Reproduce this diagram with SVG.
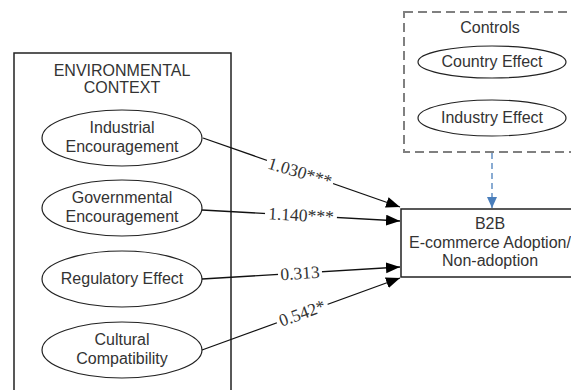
<svg xmlns="http://www.w3.org/2000/svg" width="571" height="390" viewBox="0 0 571 390">
<style>
.sans{font-family:"Liberation Sans",Arial,sans-serif;font-size:16px;fill:#333;text-anchor:middle}
.lbl{font-family:"Liberation Serif","Times New Roman",serif;font-size:17.5px;fill:#333;text-anchor:middle}
.ell{fill:#fff;stroke:#222;stroke-width:1.2}
.box{fill:#fff;stroke:#222;stroke-width:1.5}
.conn{stroke:#111;stroke-width:1.3;fill:none}
</style>
<defs>
<marker id="ah" markerUnits="userSpaceOnUse" markerWidth="14" markerHeight="12" refX="14" refY="5.5" orient="auto">
<path d="M0,0 L14,5.5 L0,11 z" fill="#000"/>
</marker>
<marker id="ahb" markerUnits="userSpaceOnUse" markerWidth="12" markerHeight="10" refX="11" refY="5" orient="auto">
<path d="M0,0 L11,5 L0,10 z" fill="#4a7ebb"/>
</marker>
</defs>
<rect width="571" height="390" fill="#fff"/>
<g id="environmental-context">
<rect class="box" x="14" y="53" width="217" height="345"/>
<text class="sans" x="122" y="76">ENVIRONMENTAL</text>
<text class="sans" x="122" y="93">CONTEXT</text>
</g>
<g id="industrial">
<ellipse class="ell" cx="122" cy="138" rx="80" ry="28"/>
<text class="sans" x="122" y="133">Industrial</text>
<text class="sans" x="122" y="152">Encouragement</text>
</g>
<g id="governmental">
<ellipse class="ell" cx="122" cy="208" rx="80" ry="28"/>
<text class="sans" x="122" y="203">Governmental</text>
<text class="sans" x="122" y="222">Encouragement</text>
</g>
<g id="regulatory">
<ellipse class="ell" cx="122" cy="279" rx="80" ry="28"/>
<text class="sans" x="122" y="284">Regulatory Effect</text>
</g>
<g id="cultural">
<ellipse class="ell" cx="122" cy="350" rx="80" ry="28"/>
<text class="sans" x="122" y="345">Cultural</text>
<text class="sans" x="122" y="364">Compatibility</text>
</g>
<g id="controls">
<rect x="404" y="12" width="185" height="140" fill="#fff" stroke="#808080" stroke-width="2" stroke-dasharray="9,5"/>
<text class="sans" x="490" y="33">Controls</text>
</g>
<g id="country-effect">
<ellipse class="ell" cx="492" cy="62" rx="74" ry="16"/>
<text class="sans" x="492" y="67">Country Effect</text>
</g>
<g id="industry-effect">
<ellipse class="ell" cx="492" cy="118" rx="74" ry="18"/>
<text class="sans" x="492" y="123">Industry Effect</text>
</g>
<g id="b2b">
<rect class="box" x="401" y="209" width="185" height="68"/>
<text class="sans" x="490" y="229">B2B</text>
<text class="sans" x="490" y="248">E-commerce Adoption/</text>
<text class="sans" x="490" y="266">Non-adoption</text>
</g>
<g id="connectors">
<line class="conn" x1="203" y1="138" x2="400" y2="207" marker-end="url(#ah)"/>
<line class="conn" x1="202" y1="210" x2="400" y2="221" marker-end="url(#ah)"/>
<line class="conn" x1="202" y1="279" x2="400" y2="267" marker-end="url(#ah)"/>
<line class="conn" x1="202" y1="350" x2="400" y2="278" marker-end="url(#ah)"/>
<line x1="492" y1="153" x2="492" y2="208" stroke="#4a7ebb" stroke-width="1.3" stroke-dasharray="6,4" marker-end="url(#ahb)"/>
<g transform="translate(300,172) rotate(17)">
<rect x="-35" y="-8" width="70" height="15" fill="#fff"/>
<text class="lbl" x="0" y="6">1.030***</text>
</g>
<g transform="translate(301,215) rotate(3)">
<rect x="-36" y="-8" width="72" height="15" fill="#fff"/>
<text class="lbl" x="0" y="6">1.140***</text>
</g>
<g transform="translate(300,273) rotate(-3.5)">
<rect x="-22" y="-8" width="44" height="15" fill="#fff"/>
<text class="lbl" x="0" y="6">0.313</text>
</g>
<g transform="translate(302,313) rotate(-20)">
<rect x="-27" y="-8" width="54" height="15" fill="#fff"/>
<text class="lbl" x="0" y="6">0.542*</text>
</g>
</g>
</svg>
